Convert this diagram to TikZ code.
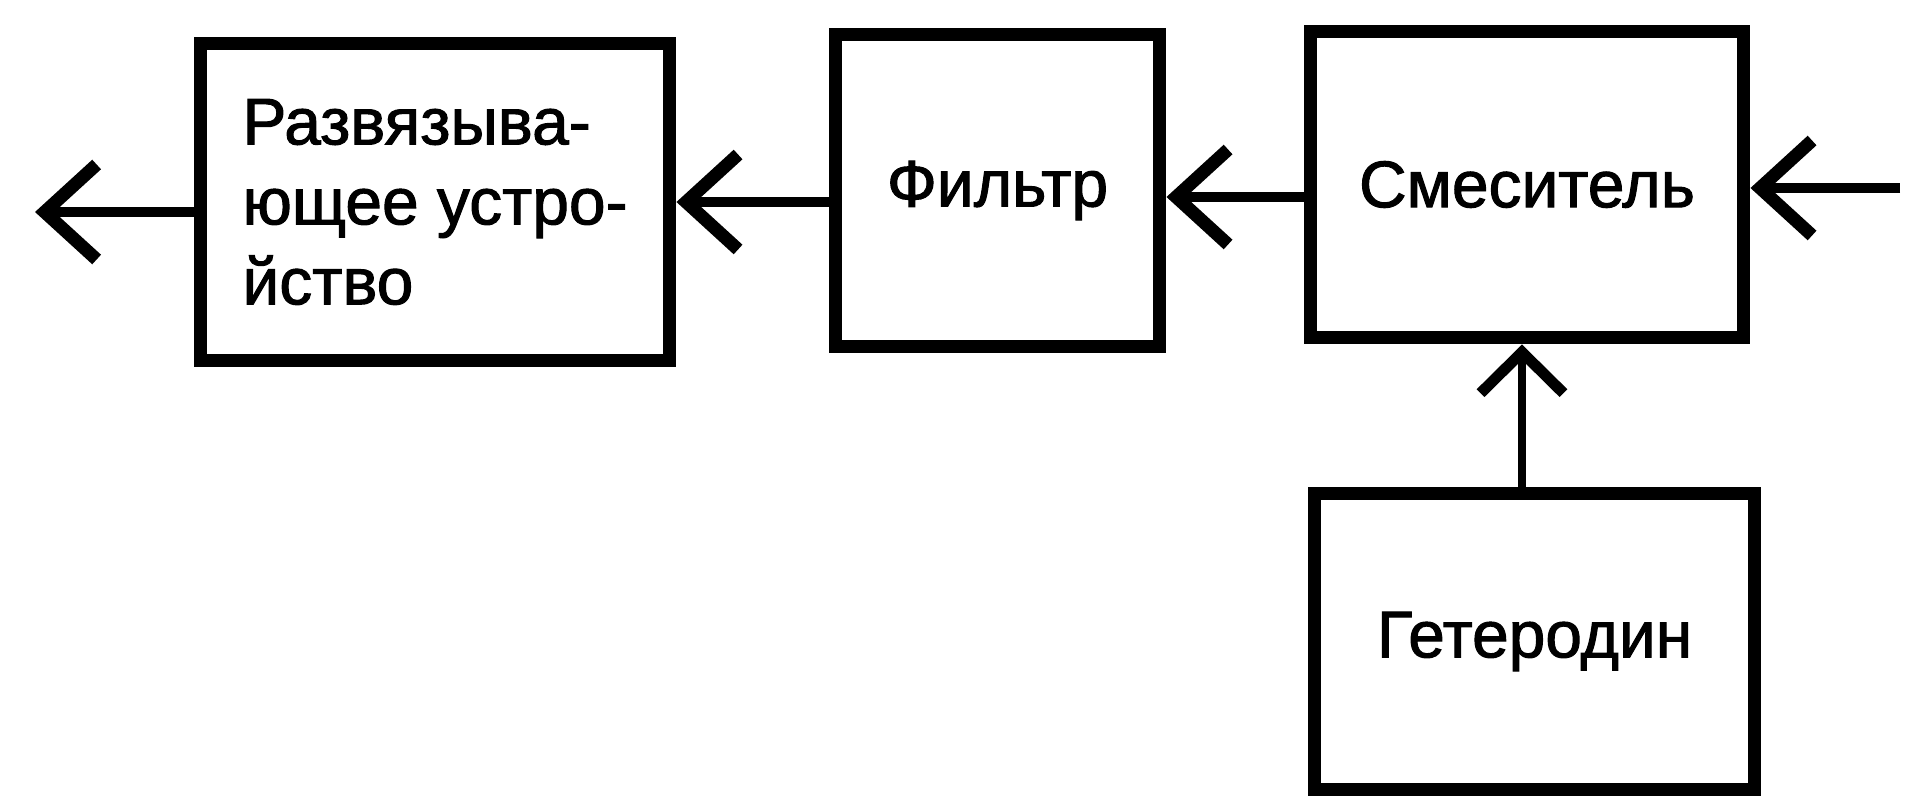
\documentclass[tikz,border=0pt]{standalone}
\usepackage{fontspec}
\setmainfont{Liberation Sans}[FakeBold=1.5]
\usetikzlibrary{arrows.meta}
\tikzset{
  blk/.style={draw=black, line width=0.26cm, inner sep=0pt, font=\fontsize{37.5}{45.5}\selectfont},
  conn/.style={line width=0.2cm, -{Straight Barb[length=1.04cm,width=1.9cm,line width=0.26cm]}},
  vconn/.style={line width=0.16cm, -{Straight Barb[length=0.82cm,width=1.66cm,line width=0.22cm]}},
}
\begin{document}
\begin{tikzpicture}[x=0.02cm,y=-0.02cm]
\useasboundingbox (0,0) rectangle (1917,800);
\node[blk, minimum width=9.4cm, minimum height=6.36cm, align=left] (dec) at (435,202) {Развязыва-\\ющее устро-\\йство};
\node[blk, minimum width=6.5cm, minimum height=6.26cm] (fil) at (997.5,190.5) {Фильтр};
\node[blk, minimum width=8.68cm, minimum height=6.14cm] (mix) at (1527,184.5) {Смеситель};
\node[blk, minimum width=8.82cm, minimum height=5.94cm] (osc) at (1534.5,641.5) {Гетеродин};
\coordinate (out) at (35,212);
\coordinate (in) at (1900,188);
\draw[conn] (dec.west |- out) -- (out);
\draw[conn] (fil.west |- 0,202) -- (dec.east |- 0,202);
\draw[conn] (mix.west |- 0,197) -- (fil.east |- 0,197);
\draw[conn] (in) -- (mix.east |- in);
\draw[vconn] (osc.north -| 1522,0) -- (mix.south -| 1522,0);
\end{tikzpicture}
\end{document}
